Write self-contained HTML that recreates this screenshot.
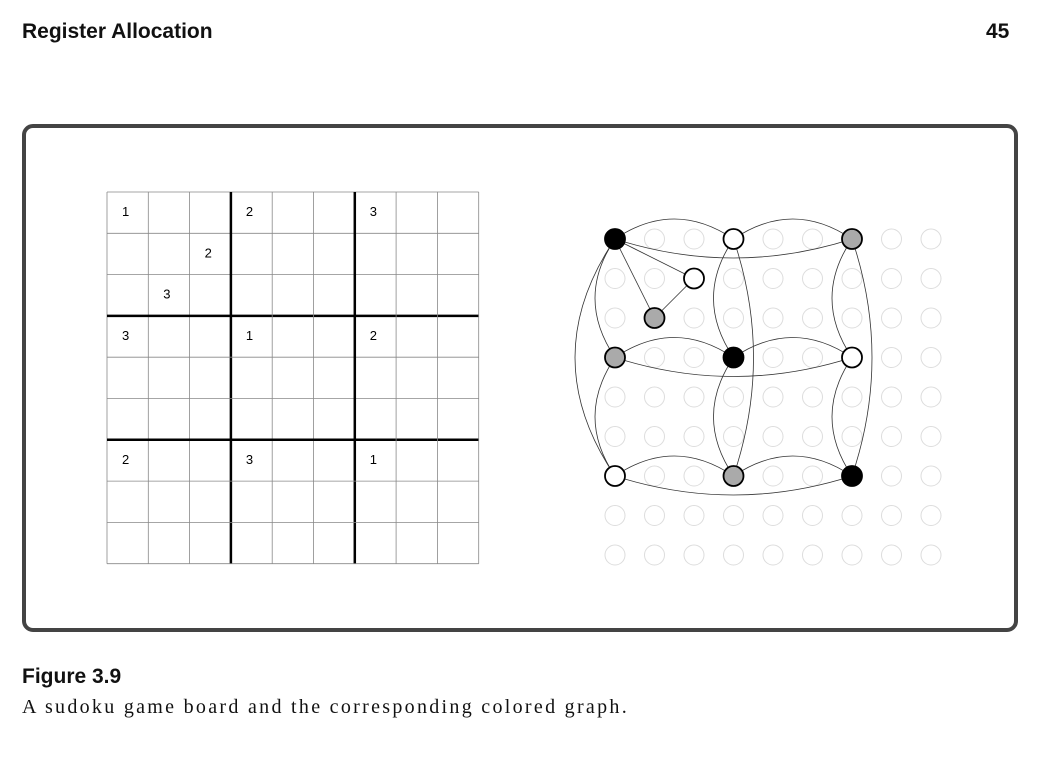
<!DOCTYPE html>
<html><head><meta charset="utf-8"><style>
body{margin:0;width:1041px;height:764px;background:#fff;position:relative;overflow:hidden}
.t{position:absolute;font-family:"Liberation Sans",sans-serif;font-weight:bold;font-size:21px;color:#111}
.c{position:absolute;font-family:"Liberation Serif",serif;font-size:20px;letter-spacing:2.3px;color:#111}
</style></head><body>
<div class="t" style="left:22px;top:20px">Register Allocation</div>
<div class="t" style="left:986px;top:20px">45</div>
<div class="t" style="left:22px;top:665px">Figure 3.9</div>
<div class="c" style="left:22px;top:696px">A sudoku game board and the corresponding colored graph.</div>
<svg id="s" width="1041" height="764" style="position:absolute;left:0;top:0">
<rect x="24" y="126" width="992" height="504" rx="9" fill="none" stroke="#444" stroke-width="4"/>
</svg>
<script>
const givens=[[0,0,1],[0,3,2],[0,6,3],[1,2,2],[2,1,3],[3,0,3],[3,3,1],[3,6,2],[6,0,2],[6,3,3],[6,6,1]];
const nodeColors=[[0,0,'#000'],[0,3,'#fff'],[0,6,'#aaa'],[1,2,'#fff'],[2,1,'#aaa'],[3,0,'#aaa'],[3,3,'#000'],[3,6,'#fff'],[6,0,'#fff'],[6,3,'#aaa'],[6,6,'#000']];
const straightEdges=[[[0,0],[1,2]],[[0,0],[2,1]],[[1,2],[2,1]]];
const NS='http://www.w3.org/2000/svg',s=document.getElementById('s');
function mk(t,a){const e=document.createElementNS(NS,t);for(const k in a)e.setAttribute(k,a[k]);s.appendChild(e);return e;}
const gx=107,gy=192,cs=41.3;
for(let i=0;i<=9;i++){const th=i%3==0&&i>0&&i<9;
 let l=mk('line',{x1:gx+i*cs,y1:gy,x2:gx+i*cs,y2:gy+9*cs,stroke:th?'#000':'#888','stroke-width':th?2.5:0.8});
 
 
 l=mk('line',{x1:gx,y1:gy+i*cs,x2:gx+9*cs,y2:gy+i*cs,stroke:th?'#000':'#888','stroke-width':th?2.5:0.8});
 
 }
givens.forEach(([r,c,v])=>{const t=mk('text',{x:gx+c*cs+15,y:gy+r*cs+24,'font-family':'Liberation Sans,sans-serif','font-size':13,fill:'#000'});t.textContent=v;
 
 });
const nx=c=>615+c*39.5,ny=r=>239+r*39.5;
function arc(x1,y1,x2,y2,ox,oy){const p=mk('path',{d:`M${x1},${y1} Q${(x1+x2)/2+ox},${(y1+y2)/2+oy} ${x2},${y2}`,fill:'none',stroke:'#333','stroke-width':0.8});
 
 }
for(let r=0;r<9;r++)for(let c=0;c<9;c++){const e=mk('circle',{cx:nx(c),cy:ny(r),r:10,fill:'#fff',stroke:'#ddd','stroke-width':1});
 
 }
const idx=[0,3,6];
idx.forEach(k=>{
 arc(nx(0),ny(k),nx(3),ny(k),0,-40);arc(nx(3),ny(k),nx(6),ny(k),0,-40);arc(nx(0),ny(k),nx(6),ny(k),0,38);
 arc(nx(k),ny(0),nx(k),ny(3),-40,0);arc(nx(k),ny(3),nx(k),ny(6),-40,0);arc(nx(k),ny(0),nx(k),ny(6),k==0?-80:40,0);});
straightEdges.forEach(([a,b])=>{const l=mk('line',{x1:nx(a[1]),y1:ny(a[0]),x2:nx(b[1]),y2:ny(b[0]),stroke:'#333','stroke-width':0.8});
 
 });
nodeColors.forEach(([r,c,f])=>{const e=mk('circle',{cx:nx(c),cy:ny(r),r:10,fill:f,stroke:'#000','stroke-width':1.8});
 
 });
</script>
</body></html>
